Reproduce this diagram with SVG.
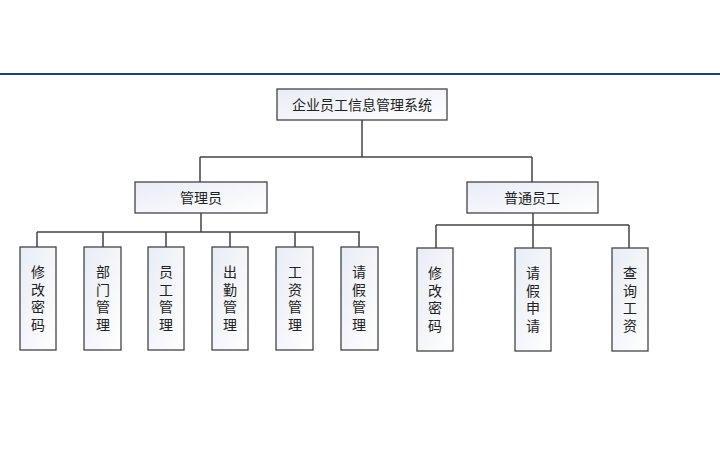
<svg xmlns="http://www.w3.org/2000/svg" width="720" height="450" viewBox="0 0 720 450">
<defs>
<linearGradient id="g" x1="0" y1="0" x2="1" y2="1"><stop offset="0" stop-color="#e8ecf5"/><stop offset="1" stop-color="#ffffff"/></linearGradient>
</defs>
<style>
.b{fill:url(#g);stroke:#444;stroke-width:1.3}
.t{font-family:"Noto Sans CJK SC",sans-serif;font-size:14px;fill:#222;text-anchor:middle}
.c{fill:none;stroke:#444;stroke-width:1.5}
</style>
<rect width="720" height="450" fill="#fff"/>
<line x1="0" y1="74" x2="720" y2="74" stroke="#1f3f6e" stroke-width="2"/>
<g id="connectors" class="c">
<path d="M362 120V157M200 157H532M200 157V182M532 157V182"/>
<path d="M201 213V232M37 232H360M37 232V247M103 232V247M166 232V247M230 232V247M295 232V247M359 232V247"/>
<path d="M533 213V248M436 225H629M436 225V248M629 225V248"/>
</g>
<g id="root"><rect class="b" x="277" y="89" width="170" height="31"/><text class="t" x="362" y="110">企业员工信息管理系统</text></g>
<g id="admin"><rect class="b" x="135" y="182" width="132" height="31"/><text class="t" x="201" y="203">管理员</text></g>
<g id="emp"><rect class="b" x="467" y="182" width="131" height="31"/><text class="t" x="532" y="203">普通员工</text></g>
<g id="a1"><rect class="b" x="20" y="247" width="36" height="103"/><text class="t" x="38" y="277">修<tspan x="38" dy="17.5">改</tspan><tspan x="38" dy="17.5">密</tspan><tspan x="38" dy="17.5">码</tspan></text></g>
<g id="a2"><rect class="b" x="84" y="247" width="37" height="103"/><text class="t" x="103" y="277">部<tspan x="103" dy="17.5">门</tspan><tspan x="103" dy="17.5">管</tspan><tspan x="103" dy="17.5">理</tspan></text></g>
<g id="a3"><rect class="b" x="148" y="247" width="36" height="103"/><text class="t" x="166" y="277">员<tspan x="166" dy="17.5">工</tspan><tspan x="166" dy="17.5">管</tspan><tspan x="166" dy="17.5">理</tspan></text></g>
<g id="a4"><rect class="b" x="212" y="247" width="36" height="103"/><text class="t" x="230" y="277">出<tspan x="230" dy="17.5">勤</tspan><tspan x="230" dy="17.5">管</tspan><tspan x="230" dy="17.5">理</tspan></text></g>
<g id="a5"><rect class="b" x="276" y="247" width="37" height="103"/><text class="t" x="295" y="277">工<tspan x="295" dy="17.5">资</tspan><tspan x="295" dy="17.5">管</tspan><tspan x="295" dy="17.5">理</tspan></text></g>
<g id="a6"><rect class="b" x="341" y="247" width="37" height="103"/><text class="t" x="359" y="277">请<tspan x="359" dy="17.5">假</tspan><tspan x="359" dy="17.5">管</tspan><tspan x="359" dy="17.5">理</tspan></text></g>
<g id="e1"><rect class="b" x="417" y="248" width="36" height="103"/><text class="t" x="435" y="278">修<tspan x="435" dy="17.5">改</tspan><tspan x="435" dy="17.5">密</tspan><tspan x="435" dy="17.5">码</tspan></text></g>
<g id="e2"><rect class="b" x="515" y="248" width="36" height="103"/><text class="t" x="533" y="278">请<tspan x="533" dy="17.5">假</tspan><tspan x="533" dy="17.5">申</tspan><tspan x="533" dy="17.5">请</tspan></text></g>
<g id="e3"><rect class="b" x="612" y="248" width="36" height="103"/><text class="t" x="630" y="278">查<tspan x="630" dy="17.5">询</tspan><tspan x="630" dy="17.5">工</tspan><tspan x="630" dy="17.5">资</tspan></text></g>
</svg>
